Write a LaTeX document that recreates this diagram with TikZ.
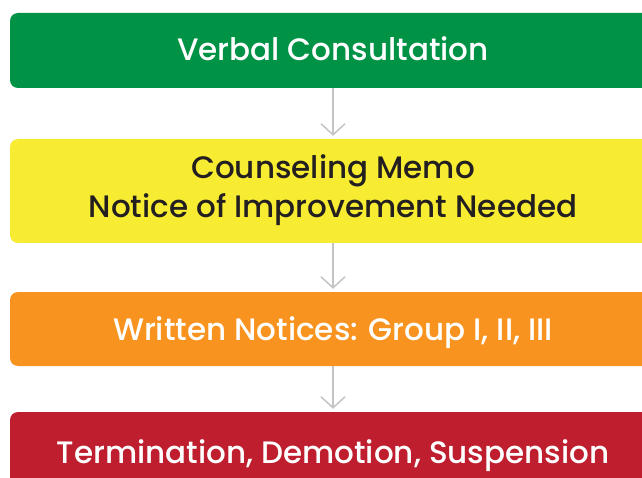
\documentclass[tikz,border=0pt]{standalone}
\usepackage{fontspec}
\setmainfont{Poppins}[UprightFont=* Medium]
\usetikzlibrary{arrows.meta, positioning}

\definecolor{stepgreen}{HTML}{009245}
\definecolor{stepyellow}{HTML}{F7EC31}
\definecolor{steporange}{HTML}{F7931E}
\definecolor{stepred}{HTML}{BE1E2D}
\definecolor{linkgray}{HTML}{C4C4C4}
\definecolor{darktext}{HTML}{231F20}

\tikzset{
    stepbox/.style={rectangle, rounded corners=8pt, minimum width=646pt,
        inner sep=0pt, align=center, text height=22pt, text depth=0pt,
        font=\fontsize{31}{39}\selectfont},
    link/.style={linkgray, line width=1.5pt, shorten >=3pt,
        -{Straight Barb[length=11pt, width=24pt, line width=1.5pt]}}
}

\begin{document}
\begin{tikzpicture}[x=1pt, y=-1pt]
\clip (0,0) rectangle (642,478);

% the four steps
\node[stepbox, fill=stepgreen, text=white, minimum height=75pt, text depth=2pt] (verbal) at (333, 50.5) {Verbal Consultation};
\node[stepbox, fill=stepyellow, text=darktext, minimum height=104pt, text height=61pt, text depth=7pt] (memo) at (333, 191) {Counseling Memo\\Notice of Improvement Needed};
\node[stepbox, fill=steporange, text=white, minimum height=74pt] (notices) at (333, 329) {Written Notices: Group I, II, III};
\node[stepbox, fill=stepred, text=white, minimum height=80pt] (termination) at (333, 452) {Termination, Demotion, Suspension};

% arrows between steps
\draw[link] (verbal) -- (memo);
\draw[link] (memo) -- (notices);
\draw[link] (notices) -- (termination);
\end{tikzpicture}
\end{document}
